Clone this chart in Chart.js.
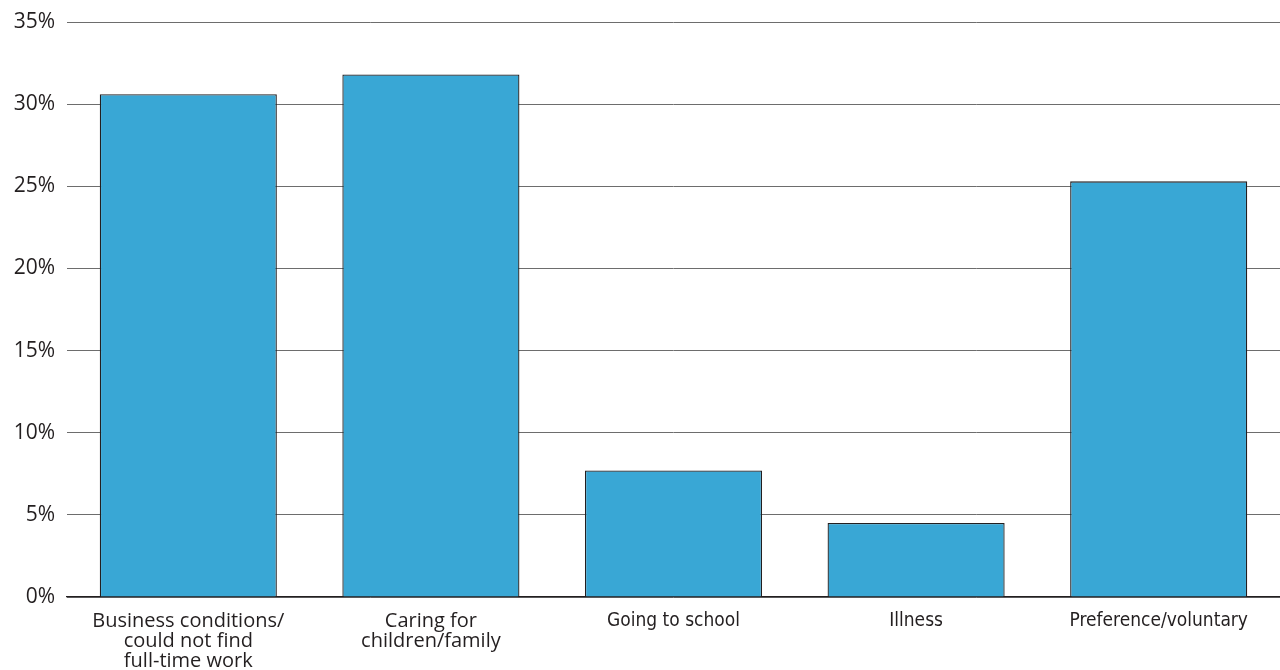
<meta charset="utf8"/>
<style>html,body{margin:0;padding:0;background:#fff;} #_wrap{width:1280px;height:670px;}</style>
<div id="_wrap"><canvas id="_c" width="1280" height="670"></canvas></div>
<script src="https://cdn.jsdelivr.net/npm/chart.js"></script>
<script>
// reasons for part-time work, share of part-time workers
const categories = [
	['Business conditions/', 'could not find', 'full-time work'],
	['Caring for', 'children/family'],
	'Going to school',
	'Illness',
	'Preference/voluntary',
];
const shares = [30.6, 31.8, 7.7, 4.5, 25.3];
const yTicks = [0, 5, 10, 15, 20, 25, 30, 35];

const wideFont = {family: "'Open Sans', 'DejaVu Sans', sans-serif", size: 20, lineHeight: 1.0};
const narrowFont = {family: "'Liberation Sans Narrow', 'DejaVu Sans Condensed', sans-serif", size: 19, lineHeight: 1.1};

Chart.defaults.color = '#231f20';

new Chart(_c, {
	type: 'bar',
	data: {
		labels: categories,
		datasets: [{
			data: shares,
			backgroundColor: '#39a7d5',
			borderColor: '#231f20',
			borderWidth: 1.3,
			categoryPercentage: 1,
			barPercentage: 0.73,
		}]
	},
	options: {
		responsive: false,
		animation: false,
		layout: {padding: {top: 22, right: 0, bottom: 0, left: 0}},
		plugins: {
			legend: {display: false},
			tooltip: {enabled: false},
		},
		scales: {
			x: {
				grid: {display: false},
				border: {display: true, color: '#231f20', width: 1.3},
				afterFit: s => { s.height = 73; },
				ticks: {
					maxRotation: 0,
					autoSkip: false,
					padding: 6,
					font: ctx => ctx.index < 2 ? wideFont : narrowFont,
				},
			},
			y: {
				min: yTicks[0],
				max: yTicks[yTicks.length - 1],
				border: {display: false},
				grid: {color: '#6d6d6d', lineWidth: 1, drawTicks: false},
				afterBuildTicks: s => { s.ticks = yTicks.map(v => ({value: v})); },
				afterFit: s => { s.width = 67; s.paddingTop = 0; s.paddingBottom = 0; },
				ticks: {
					padding: 12,
					font: {family: "'Open Sans', 'DejaVu Sans', sans-serif", size: 21},
					callback: v => v + '%',
				},
			},
		},
	},
});
</script>
